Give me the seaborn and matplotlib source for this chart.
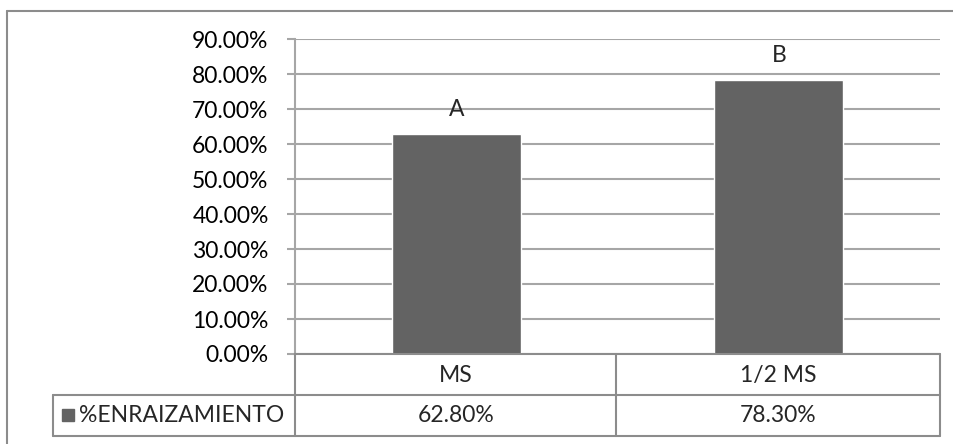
import seaborn as sns
import matplotlib.pyplot as plt
from matplotlib.lines import Line2D
from matplotlib.patches import Rectangle

# data
categories = ['MS', '1/2 MS']
enraizamiento = [0.628, 0.783]
letters = ['A', 'B']
series_name = '%ENRAIZAMIENTO'
yticks = [0.0, 0.1, 0.2, 0.3, 0.4, 0.5, 0.6, 0.7, 0.8, 0.9]

W, H = 954, 444
bar_color = '#636363'
grid_color = '#a6a6a6'
table_color = '#8c8c8c'

sns.set_style('white')
plt.rcParams['font.family'] = ['Lato', 'DejaVu Sans']
FS = 16.5


def fx(x):
    return x / W


def fy(y):
    return 1 - y / H


fig = plt.figure(figsize=(W / 100, H / 100), dpi=100)
ax = fig.add_axes([fx(295), fy(354), fx(940) - fx(295), fy(39) - fy(354)])

sns.barplot(x=categories, y=enraizamiento, color=bar_color, width=0.4,
            saturation=1, ax=ax, zorder=3)
ax.set_ylim(0, 0.9)
ax.set_xlim(-0.5, 1.5)
ax.set_yticks(yticks)
ax.set_yticklabels([f'{t * 100:.2f}%' for t in yticks], fontsize=FS)
ax.set_xticks([])
ax.set_xlabel('')
ax.set_ylabel('')
ax.yaxis.grid(True, color=grid_color, linewidth=1.5, zorder=0)
ax.set_axisbelow(True)
for s in ['top', 'right', 'bottom']:
    ax.spines[s].set_visible(False)
ax.spines['left'].set_color(grid_color)
ax.spines['left'].set_linewidth(1.5)
ax.tick_params(axis='y', which='major', left=True, length=6, width=1.5,
               color=grid_color, pad=13, labelcolor='black')

# significance letters
for i, (v, l) in enumerate(zip(enraizamiento, letters)):
    ax.annotate(l, (i, v), xytext=(0, 10), textcoords='offset points',
                ha='center', va='bottom', fontsize=FS)

# outer chart border
fig.add_artist(Line2D([fx(7), 1], [fy(11), fy(11)], color=table_color, lw=1.5))
fig.add_artist(Line2D([fx(7), fx(7)], [fy(11), 0], color=table_color, lw=1.5))

# data table
def hline(x0, x1, y):
    fig.add_artist(Line2D([fx(x0), fx(x1)], [fy(y), fy(y)], color=table_color, lw=1.5))


def vline(x, y0, y1):
    fig.add_artist(Line2D([fx(x), fx(x)], [fy(y0), fy(y1)], color=table_color, lw=1.5))


hline(295, 940, 354)
hline(53, 940, 395)
hline(53, 940, 436)
vline(53, 395, 436)
vline(295, 354, 436)
vline(616, 354, 436)
vline(940, 354, 436)

col_centers = [456, 778]
for cx, cat, v in zip(col_centers, categories, enraizamiento):
    fig.text(fx(cx), fy(375), cat, ha='center', va='center', fontsize=FS)
    fig.text(fx(cx), fy(415), f'{v * 100:.2f}%', ha='center', va='center', fontsize=FS)

fig.add_artist(Rectangle((fx(62), fy(421)), fx(12), 12 / H, color=bar_color))
fig.text(fx(79), fy(415), series_name, ha='left', va='center', fontsize=FS)

plt.savefig('out.png', dpi=100)
